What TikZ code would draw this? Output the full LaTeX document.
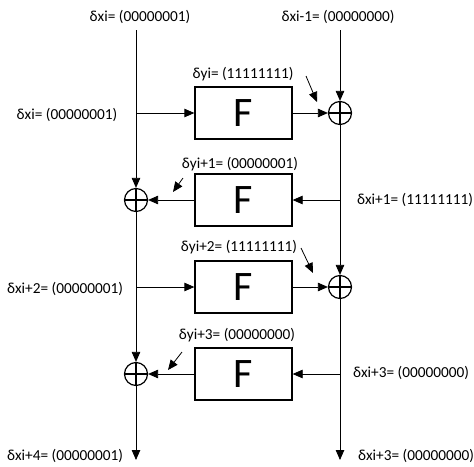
\documentclass[tikz,border=0pt]{standalone}
\usepackage{fontspec}
\setmainfont{Carlito}
\usetikzlibrary{arrows.meta}
\begin{document}
\begin{tikzpicture}[x=1pt,y=-1pt,
  tip/.style={-{Triangle[length=10pt,width=8.5pt]}},
  fbox/.style={draw,line width=1.3pt,minimum width=97pt,minimum height=52pt,inner sep=0pt,font=\fontsize{42}{44}\selectfont},
  xor/.style={draw,circle,line width=1.2pt,minimum size=23pt,inner sep=0pt,
    path picture={\draw[line width=1.2pt] (path picture bounding box.north) -- (path picture bounding box.south) (path picture bounding box.west) -- (path picture bounding box.east);}},
  lbl/.style={font=\fontsize{15.3}{17}\selectfont,inner sep=0pt},
  wire/.style={line width=0.8pt}]
\useasboundingbox (0,0) rectangle (474,466);

% boxes
\node[fbox] (f1) at (243.5,113) {F};
\node[fbox] (f2) at (243.5,200) {F};
\node[fbox] (f3) at (243.5,287) {F};
\node[fbox] (f4) at (243.5,374) {F};

% xors
\node[xor] (x1) at (340,113) {};
\node[xor] (x2) at (136,200) {};
\node[xor] (x3) at (340,287) {};
\node[xor] (x4) at (136,374) {};

% coordinates
\coordinate (tl) at (136,30);
\coordinate (tr) at (340,30);
\coordinate (bl) at (136,460);
\coordinate (br) at (340,460);
\coordinate (j1) at (136,113);
\coordinate (j2) at (340,200);
\coordinate (j3) at (136,287);
\coordinate (j4) at (340,374);

% labels
\node[lbl] (ltl) at (140,17) {δxi= (00000001)};
\node[lbl] (ltr) at (338,17) {δxi-1= (00000000)};
\node[lbl] (lx1) at (67,115) {δxi= (00000001)};
\node[lbl] (ly1) at (243,74) {δyi= (11111111)};
\node[lbl] (ly2) at (240,164) {δyi+1= (00000001)};
\node[lbl] (lx2) at (415,200) {δxi+1= (11111111)};
\node[lbl] (ly3) at (239,247) {δyi+2= (11111111)};
\node[lbl] (lx3) at (65,289) {δxi+2= (00000001)};
\node[lbl] (ly4) at (237,335) {δyi+3= (00000000)};
\node[lbl] (lx4) at (411,373) {δxi+3= (00000000)};
\node[lbl] (lbl1) at (65,456) {δxi+4= (00000001)};
\node[lbl] (lbr) at (416,456) {δxi+3= (00000000)};

% left column
\draw[wire,tip] (tl) -- (x2.north);
\draw[wire,tip] (x2.south) -- (x4.north);
\draw[wire,tip] (x4.south) -- (bl);
% right column
\draw[wire,tip] (tr) -- (x1.north);
\draw[wire,tip] (x1.south) -- (x3.north);
\draw[wire,tip] (x3.south) -- (br);

% horizontal
\draw[wire,tip] (j1) -- (f1.west);
\draw[wire,tip] (f1.east) -- (x1.west);
\draw[wire,tip] (j2) -- (f2.east);
\draw[wire,tip] (f2.west) -- (x2.east);
\draw[wire,tip] (j3) -- (f3.west);
\draw[wire,tip] (f3.east) -- (x3.west);
\draw[wire,tip] (j4) -- (f4.east);
\draw[wire,tip] (f4.west) -- (x4.east);

% small pointer arrows
\coordinate (a1s) at (306,76); \coordinate (a1e) at (317,102);
\coordinate (a2s) at (183,178); \coordinate (a2e) at (173,192);
\coordinate (a3s) at (301,248); \coordinate (a3e) at (313,273);
\coordinate (a4s) at (182,352); \coordinate (a4e) at (168,370);
\draw[wire,tip] (a1s) -- (a1e);
\draw[wire,tip] (a2s) -- (a2e);
\draw[wire,tip] (a3s) -- (a3e);
\draw[wire,tip] (a4s) -- (a4e);
\end{tikzpicture}
\end{document}
